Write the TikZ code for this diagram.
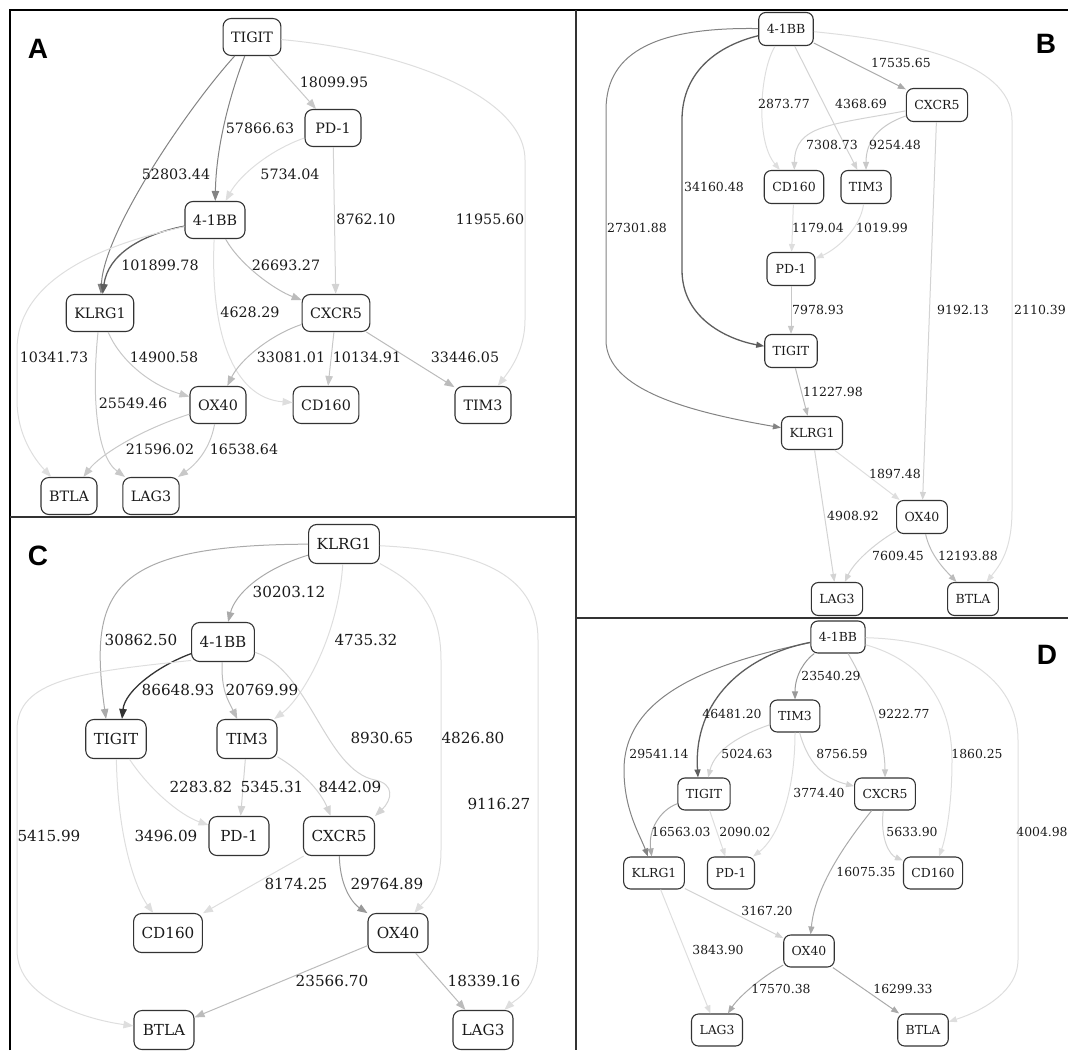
\documentclass[tikz,border=0pt]{standalone}
\usepackage{fontspec}
\setmainfont{DejaVu Serif}
\newfontfamily\panelfont{Liberation Sans}
\usetikzlibrary{arrows.meta}

\definecolor{g1}{HTML}{333333}
\definecolor{g2}{HTML}{5E5E5E}
\definecolor{g3}{HTML}{838383}
\definecolor{g4}{HTML}{999999}
\definecolor{g5}{HTML}{AAAAAA}
\definecolor{g6}{HTML}{BBBBBB}
\definecolor{g7}{HTML}{C8C8C8}
\definecolor{g8}{HTML}{D3D3D3}
\definecolor{g9}{HTML}{DEDEDE}
\definecolor{boxline}{HTML}{333333}
\definecolor{txt}{HTML}{1A1A1A}

\begin{document}
\begin{tikzpicture}[x=1pt, y=-1pt,
  box/.style={draw=boxline, rounded corners=8pt, line width=1.1pt, inner xsep=8pt, inner ysep=0pt, text=txt},
  wt/.style={text=txt, inner sep=1pt},
  tag/.style={font=\panelfont\bfseries\fontsize{28}{28}\selectfont},
  e/.style={->, line width=1pt},
  heavy/.style={line width=1.3pt}]
\useasboundingbox (0,0) rectangle (1068,1050);
\clip (0,0) rectangle (1068,1050);

% frame
\draw[line width=2.5pt] (10,1050) -- (10,10) -- (1068,10);
\draw[line width=1.6pt, boxline] (576,10) -- (576,1050);
\draw[line width=1.4pt, boxline] (10,517) -- (576,517);
\draw[line width=1.4pt, boxline] (576,618) -- (1068,618);

% panel A
\begin{scope}[font=\fontsize{14.3}{17}\selectfont, box/.append style={minimum height=37pt, minimum width=56pt}, >={Triangle[length=10pt,width=7.5pt]}]
\node[tag] (tagA) at (38,49) {A};
\node[box] (tigA) at (252,37) {TIGIT};
\node[box] (pdA) at (333,128) {PD-1};
\node[box] (bbA) at (215,220) {4-1BB};
\node[box] (klA) at (100,313) {KLRG1};
\node[box] (cxA) at (336,313) {CXCR5};
\node[box] (oxA) at (218,405) {OX40};
\node[box] (cdA) at (326,405) {CD160};
\node[box] (timA) at (483,405) {TIM3};
\node[box] (btA) at (69,496) {BTLA};
\node[box] (laA) at (151,496) {LAG3};

\draw[e, g3] (tigA) .. controls (190,105) and (104,230) .. (klA);
\draw[e, g3] (tigA) .. controls (228,100) and (216,150) .. (bbA);
\draw[e, g7] (tigA) -- (pdA);
\draw[e, g9] (tigA) .. controls (400,50) and (525,95) .. (525,160) -- (525,320) .. controls (525,350) and (510,370) .. (timA);
\draw[e, g9] (pdA) .. controls (270,150) and (240,175) .. (bbA);
\draw[e, g8] (pdA) -- (cxA);
\draw[e, g2, heavy] (bbA) .. controls (140,235) and (108,255) .. (klA);
\draw[e, g9] (bbA) .. controls (100,245) and (17,280) .. (17,350) -- (17,400) .. controls (17,440) and (40,465) .. (btA);
\draw[e, g9] (bbA) .. controls (210,330) and (232,398) .. (cdA);
\draw[e, g6] (bbA) .. controls (240,265) and (275,290) .. (cxA);
\draw[e, g7] (klA) .. controls (120,360) and (150,385) .. (oxA);
\draw[e, g7] (klA) .. controls (92,390) and (95,455) .. (laA);
\draw[e, g6] (cxA) .. controls (270,335) and (240,360) .. (oxA);
\draw[e, g7] (cxA) -- (cdA);
\draw[e, g6] (cxA) -- (timA);
\draw[e, g7] (oxA) .. controls (140,430) and (100,455) .. (btA);
\draw[e, g7] (oxA) .. controls (210,450) and (195,465) .. (laA);

\node[wt] (lA1) at (334,82) {18099.95};
\node[wt] (lA2) at (260,128) {57866.63};
\node[wt] (lA3) at (176,174) {52803.44};
\node[wt] (lA4) at (290,174) {5734.04};
\node[wt] (lA5) at (366,219) {8762.10};
\node[wt] (lA6) at (490,219) {11955.60};
\node[wt] (lA7) at (160,265) {101899.78};
\node[wt] (lA8) at (286,265) {26693.27};
\node[wt] (lA9) at (250,312) {4628.29};
\node[wt] (lA10) at (54,357) {10341.73};
\node[wt] (lA11) at (164,357) {14900.58};
\node[wt] (lA12) at (291,357) {33081.01};
\node[wt] (lA13) at (367,357) {10134.91};
\node[wt] (lA14) at (465,357) {33446.05};
\node[wt] (lA15) at (133,403) {25549.46};
\node[wt] (lA16) at (160,449) {21596.02};
\node[wt] (lA17) at (244,449) {16538.64};
\end{scope}

% panel B
\begin{scope}[font=\fontsize{12.5}{15}\selectfont, box/.append style={minimum height=33pt, minimum width=48pt, rounded corners=7pt}, >={Triangle[length=8pt,width=6pt]}]
\node[tag] (tagB) at (1046,44) {B};
\node[box] (bbB) at (786,29) {4-1BB};
\node[box] (cxB) at (937,105) {CXCR5};
\node[box] (cdB) at (794,187) {CD160};
\node[box] (timB) at (866,187) {TIM3};
\node[box] (pdB) at (791,269) {PD-1};
\node[box] (tigB) at (791,351) {TIGIT};
\node[box] (klB) at (812,433) {KLRG1};
\node[box] (oxB) at (922,517) {OX40};
\node[box] (laB) at (837,599) {LAG3};
\node[box] (btB) at (973,599) {BTLA};

\draw[e, g3] (bbB) .. controls (660,27) and (606,50) .. (606,110) -- (606,340) .. controls (606,390) and (690,412) .. (klB);
\draw[e, g2, heavy] (bbB) .. controls (720,45) and (682,70) .. (682,120) -- (682,270) .. controls (682,320) and (730,340) .. (tigB);
\draw[e, g9] (bbB) .. controls (760,70) and (755,140) .. (cdB);
\draw[e, g8] (bbB) -- (timB);
\draw[e, g5] (bbB) -- (cxB);
\draw[e, g9] (bbB) .. controls (900,40) and (1012,60) .. (1012,120) -- (1012,510) .. controls (1012,550) and (1000,565) .. (btB);
\draw[e, g8] (cxB) .. controls (830,125) and (795,125) .. (cdB);
\draw[e, g7] (cxB) .. controls (880,125) and (866,140) .. (timB);
\draw[e, g8] (cxB) -- (oxB);
\draw[e, g9] (cdB) -- (pdB);
\draw[e, g9] (timB) .. controls (860,230) and (835,250) .. (pdB);
\draw[e, g7] (pdB) -- (tigB);
\draw[e, g6] (tigB) -- (klB);
\draw[e, g9] (klB) -- (oxB);
\draw[e, g8] (klB) -- (laB);
\draw[e, g8] (oxB) .. controls (880,540) and (855,560) .. (laB);
\draw[e, g6] (oxB) .. controls (930,555) and (945,570) .. (btB);

\node[wt] (lB1) at (901,63) {17535.65};
\node[wt] (lB2) at (784,104) {2873.77};
\node[wt] (lB3) at (861,104) {4368.69};
\node[wt] (lB4) at (832,145) {7308.73};
\node[wt] (lB5) at (895,145) {9254.48};
\node[wt] (lB6) at (714,187) {34160.48};
\node[wt] (lB7) at (637,228) {27301.88};
\node[wt] (lB8) at (818,228) {1179.04};
\node[wt] (lB9) at (882,228) {1019.99};
\node[wt] (lB10) at (818,310) {7978.93};
\node[wt] (lB11) at (963,310) {9192.13};
\node[wt] (lB12) at (1040,310) {2110.39};
\node[wt] (lB13) at (833,392) {11227.98};
\node[wt] (lB14) at (895,474) {1897.48};
\node[wt] (lB15) at (853,516) {4908.92};
\node[wt] (lB16) at (898,556) {7609.45};
\node[wt] (lB17) at (968,556) {12193.88};
\end{scope}

% panel C
\begin{scope}[font=\fontsize{15.2}{18}\selectfont, box/.append style={minimum height=39pt, minimum width=60pt}, >={Triangle[length=10pt,width=7.5pt]}]
\node[tag] (tagC) at (38,556) {C};
\node[box] (klC) at (344,544) {KLRG1};
\node[box] (bbC) at (223,642) {4-1BB};
\node[box] (tigC) at (116,739) {TIGIT};
\node[box] (timC) at (247,739) {TIM3};
\node[box] (pdC) at (239,836) {PD-1};
\node[box] (cxC) at (339,836) {CXCR5};
\node[box] (cdC) at (168,933) {CD160};
\node[box] (oxC) at (398,933) {OX40};
\node[box] (btC) at (164,1030) {BTLA};
\node[box] (laC) at (483,1030) {LAG3};

\draw[e, g5] (klC) .. controls (110,545) and (88,590) .. ([xshift=-10pt]tigC.north);
\draw[e, g5] (klC) .. controls (260,570) and (235,595) .. (bbC);
\draw[e, g9] (klC) .. controls (338,640) and (300,700) .. (timC);
\draw[e, g9] (klC) .. controls (410,580) and (441,600) .. (441,660) -- (441,850) .. controls (441,890) and (425,900) .. (oxC);
\draw[e, g9] (klC) .. controls (470,550) and (538,570) .. (538,640) -- (538,950) .. controls (538,990) and (515,1000) .. (laC);
\draw[e, g1, heavy] (bbC) .. controls (160,665) and (125,690) .. ([xshift=6pt]tigC.north);
\draw[e, g6] (bbC) .. controls (221,690) and (228,700) .. (timC);
\draw[e, g9] (bbC.210) .. controls (80,672) and (17,680) .. (17,730) -- (17,950) .. controls (17,1000) and (90,1020) .. (btC);
\draw[e, g8] (bbC) .. controls (310,670) and (325,770) .. (375,780) .. controls (395,784) and (392,800) .. (cxC.29);
\draw[e, g9] (tigC) .. controls (150,790) and (180,815) .. (pdC);
\draw[e, g9] (tigC) .. controls (118,850) and (140,895) .. (cdC);
\draw[e, g8] (timC) -- (pdC);
\draw[e, g8] (timC) .. controls (300,770) and (320,790) .. (cxC);
\draw[e, g9] (cxC) -- (cdC);
\draw[e, g4] (cxC) .. controls (340,890) and (355,905) .. (oxC);
\draw[e, g6] (oxC) -- (btC);
\draw[e, g6] (oxC) -- (laC);

\node[wt] (lC1) at (289,592) {30203.12};
\node[wt] (lC2) at (141,640) {30862.50};
\node[wt] (lC3) at (366,640) {4735.32};
\node[wt] (lC4) at (178,690) {86648.93};
\node[wt] (lC5) at (262,690) {20769.99};
\node[wt] (lC6) at (382,738) {8930.65};
\node[wt] (lC7) at (473,738) {4826.80};
\node[wt] (lC8) at (201,787) {2283.82};
\node[wt] (lC9) at (272,787) {5345.31};
\node[wt] (lC10) at (350,787) {8442.09};
\node[wt] (lC11) at (499,804) {9116.27};
\node[wt] (lC12) at (49,836) {5415.99};
\node[wt] (lC13) at (166,836) {3496.09};
\node[wt] (lC14) at (296,884) {8174.25};
\node[wt] (lC15) at (387,884) {29764.89};
\node[wt] (lC16) at (332,981) {23566.70};
\node[wt] (lC17) at (484,981) {18339.16};
\end{scope}

% panel D
\begin{scope}[font=\fontsize{12.4}{15}\selectfont, box/.append style={minimum height=32pt, minimum width=47pt, rounded corners=7pt}, >={Triangle[length=8pt,width=6pt]}]
\node[tag] (tagD) at (1047,655) {D};
\node[box] (bbD) at (838,637) {4-1BB};
\node[box] (timD) at (795,716) {TIM3};
\node[box] (tigD) at (704,794) {TIGIT};
\node[box] (cxD) at (885,794) {CXCR5};
\node[box] (klD) at (654,873) {KLRG1};
\node[box] (pdD) at (731,873) {PD-1};
\node[box] (cdD) at (933,873) {CD160};
\node[box] (oxD) at (809,951) {OX40};
\node[box] (laD) at (717,1030) {LAG3};
\node[box] (btD) at (923,1030) {BTLA};

\draw[e, g3] (bbD) .. controls (700,665) and (624,700) .. (624,770) .. controls (624,810) and (640,835) .. (klD);
\draw[e, g2, heavy] (bbD) .. controls (745,655) and (693,700) .. ([xshift=-6pt]tigD.north);
\draw[e, g4] (bbD) .. controls (805,660) and (795,675) .. (timD);
\draw[e, g7] (bbD) .. controls (870,690) and (885,740) .. (cxD);
\draw[e, g9] (bbD) .. controls (920,660) and (952,700) .. (952,760) .. controls (952,810) and (945,840) .. (cdD);
\draw[e, g9] (bbD) .. controls (960,640) and (1018,680) .. (1018,740) -- (1018,960) .. controls (1018,990) and (985,1010) .. (btD);
\draw[e, g8] (timD) .. controls (740,735) and (715,750) .. (tigD);
\draw[e, g9] (timD) .. controls (795,800) and (775,840) .. (pdD);
\draw[e, g8] (timD) .. controls (810,770) and (830,780) .. (cxD);
\draw[e, g5] (tigD) .. controls (660,810) and (648,830) .. (klD);
\draw[e, g9] (tigD) -- (pdD);
\draw[e, g5] (cxD) .. controls (840,850) and (815,890) .. (oxD);
\draw[e, g8] (cxD) .. controls (880,840) and (890,855) .. (cdD);
\draw[e, g8] (klD) -- (oxD);
\draw[e, g9] (klD) -- (laD);
\draw[e, g5] (oxD) .. controls (765,975) and (740,995) .. (laD);
\draw[e, g5] (oxD) -- (btD);

\node[wt] (lD1) at (831,676) {23540.29};
\node[wt] (lD2) at (732,714) {46481.20};
\node[wt] (lD3) at (904,714) {9222.77};
\node[wt] (lD4) at (659,754) {29541.14};
\node[wt] (lD5) at (747,754) {5024.63};
\node[wt] (lD6) at (842,754) {8756.59};
\node[wt] (lD7) at (977,754) {1860.25};
\node[wt] (lD8) at (819,793) {3774.40};
\node[wt] (lD9) at (681,832) {16563.03};
\node[wt] (lD10) at (745,832) {2090.02};
\node[wt] (lD11) at (912,832) {5633.90};
\node[wt] (lD12) at (1042,832) {4004.98};
\node[wt] (lD13) at (866,872) {16075.35};
\node[wt] (lD14) at (767,911) {3167.20};
\node[wt] (lD15) at (718,950) {3843.90};
\node[wt] (lD16) at (781,989) {17570.38};
\node[wt] (lD17) at (903,989) {16299.33};
\end{scope}
\end{tikzpicture}
\end{document}
